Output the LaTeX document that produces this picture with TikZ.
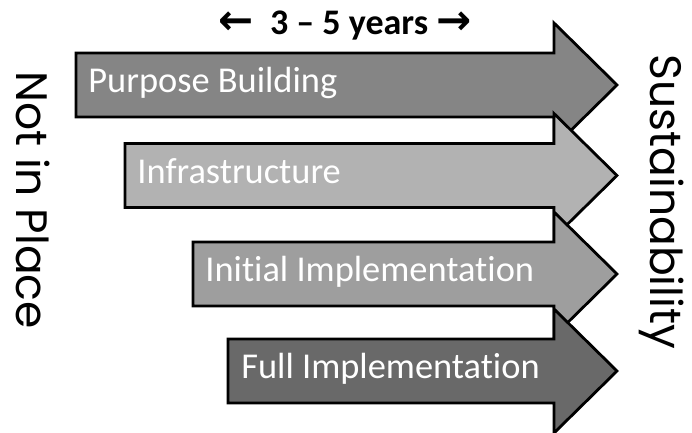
\documentclass[tikz,border=0pt]{standalone}
\usepackage{fontspec}
\setmainfont[Ligatures=NoCommon]{Carlito}
\newfontfamily\sidefont{Poppins}
\newfontfamily\arrowfont{DejaVu Sans}
\definecolor{pbgrey}{HTML}{858585}
\definecolor{infgrey}{HTML}{B2B2B2}
\definecolor{initgrey}{HTML}{9E9E9E}
\definecolor{fullgrey}{HTML}{696969}
\begin{document}
\begin{tikzpicture}[x=0.5pt,y=-0.5pt,
    stage/.style={draw=black,line width=1.4pt,line join=miter},
    lbl/.style={anchor=base west,text=white,inner sep=0pt,
      font=\fontsize{18.2}{20}\selectfont},
    side/.style={rotate=-90,inner sep=0pt,
      font=\sidefont\fontsize{22}{26}\selectfont}]
  \useasboundingbox (0,0) rectangle (692,433);

  % stage arrows, drawn top to bottom so each one covers the head above
  \foreach \l/\c/\g in {76/85/pbgrey,125/175.5/infgrey,193/274/initgrey,228/371/fullgrey}
    \draw[stage,fill=\g] (\l,\c-32) -- (554,\c-32) -- (554,\c-62) -- (617,\c)
      -- (554,\c+62) -- (554,\c+32) -- (\l,\c+32) -- cycle;

  \node[lbl] (pb) at (88,93) {Purpose Building};
  \node[lbl] (inf) at (137,183.5) {Infrastructure};
  \node[lbl] (init) at (205,282) {Initial Implementation};
  \node[lbl] (full) at (241,379) {Full Implementation};

  \node[anchor=base,inner sep=0pt,font=\bfseries\fontsize{18}{20}\selectfont] (span)
    at (345,35) {{\arrowfont\fontsize{21}{20}\selectfont ←}\ \ 3 – 5 years\ {\arrowfont\fontsize{21}{20}\selectfont →}};

  \node[side] (notin) at (33,200) {Not in Place};
  \node[side] (sust) at (662,202) {Sustainability};
\end{tikzpicture}
\end{document}
